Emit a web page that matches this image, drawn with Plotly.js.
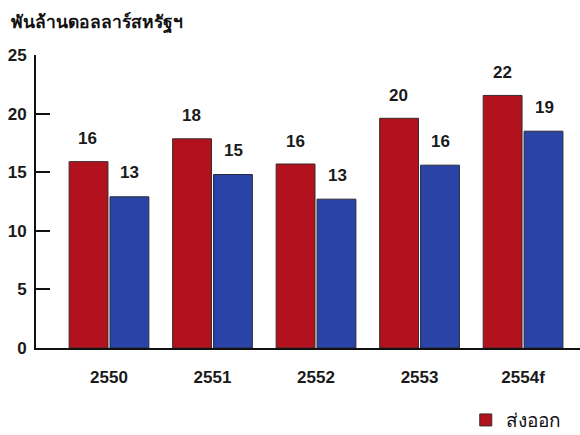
<!DOCTYPE html>
<html>
<head>
<meta charset="utf-8">
<script src="https://cdn.plot.ly/plotly-3.0.1.min.js"></script>
<style>html,body{margin:0;padding:0;background:#fff;}#chart{width:580px;height:435px;}</style>
</head>
<body>
<div id="chart"></div>
<script>
const categories = ["2550", "2551", "2552", "2553", "2554f"];
const exportValues = [15.9, 17.85, 15.7, 19.6, 21.55];
const importValues = [12.9, 14.8, 12.7, 15.6, 18.5];
const exportLabels = ["16", "18", "16", "20", "22"];
const importLabels = ["13", "15", "13", "16", "19"];
const yTicks = [0, 5, 10, 15, 20, 25];
const unitTitle = "พันล้านดอลลาร์สหรัฐฯ";
const exportName = "ส่งออก";
const importName = "นำเข้า";

const FONT = "Liberation Sans, Arial, Helvetica, sans-serif";
const RED = "#b1121d";
const BLUE = "#2944a6";

const traces = [
  {
    type: "bar", x: categories, y: exportValues, name: exportName,
    marker: {color: RED, line: {color: "#3a2a2a", width: 1}},
    hoverinfo: "x+y"
  },
  {
    type: "bar", x: categories, y: importValues, name: importName,
    showlegend: false,
    marker: {color: BLUE, line: {color: "#2a2a3a", width: 1}},
    hoverinfo: "x+y"
  }
];

const annotations = [];
categories.forEach((c, i) => {
  annotations.push({x: i, y: exportValues[i], xref: "x", yref: "y", text: exportLabels[i],
    showarrow: false, xshift: -21, yshift: 23, yanchor: "middle",
    font: {family: FONT, size: 17, color: "#1a1a1a", weight: "bold"}});
  annotations.push({x: i, y: importValues[i], xref: "x", yref: "y", text: importLabels[i],
    showarrow: false, xshift: 21, yshift: 24, yanchor: "middle",
    font: {family: FONT, size: 17, color: "#1a1a1a", weight: "bold"}});
});
annotations.push({xref: "paper", yref: "paper", x: -0.05, y: 1.113, xanchor: "left", yanchor: "middle",
  text: "<b>" + unitTitle + "</b>", showarrow: false,
  font: {family: "Noto Sans, sans-serif", size: 17.5, color: "#111"}});

const layout = {
  width: 580, height: 435,
  margin: {l: 36, r: 0, t: 55, b: 87, autoexpand: false},
  paper_bgcolor: "#fff", plot_bgcolor: "#fff",
  barmode: "group", bargap: 0.21, bargroupgap: 0.05,
  font: {family: FONT, color: "#1a1a1a"},
  xaxis: {
    type: "category", range: [-0.705, 4.55],
    showline: true, linecolor: "#111", linewidth: 2,
    ticks: "", showgrid: false, zeroline: false,
    tickfont: {family: FONT, size: 17, color: "#1a1a1a", weight: "bold"},
    ticklabelstandoff: 13
  },
  yaxis: {
    range: [0, 25], tickvals: yTicks,
    showline: true, linecolor: "#111", linewidth: 2,
    ticks: "inside", ticklen: 14, tickwidth: 2, tickcolor: "#111",
    showgrid: false, zeroline: false,
    tickfont: {family: FONT, size: 17, color: "#1a1a1a", weight: "bold"},
    ticklabelstandoff: 4
  },
  showlegend: true,
  legend: {x: 0.79, y: -0.246, xanchor: "left", yanchor: "middle",
    font: {family: "Noto Sans, sans-serif", size: 19, color: "#111"},
    bgcolor: "rgba(0,0,0,0)"},
  annotations: annotations
};

Plotly.newPlot("chart", traces, layout, {displayModeBar: false, staticPlot: true});
</script>
</body>
</html>
